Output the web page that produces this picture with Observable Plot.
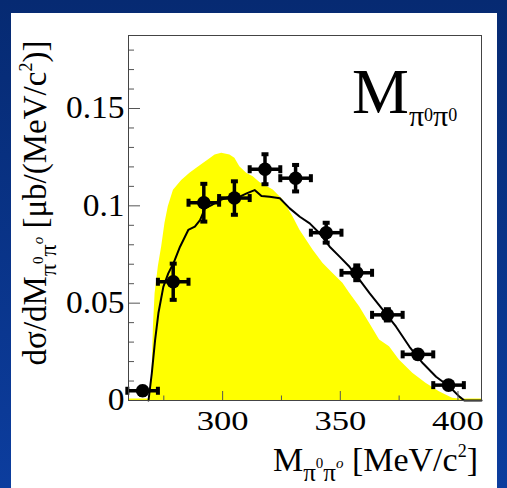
<!DOCTYPE html>
<html><head><meta charset="utf-8">
<script src="https://cdn.jsdelivr.net/npm/d3@7"></script>
<script src="https://cdn.jsdelivr.net/npm/@observablehq/plot@0.6"></script>
<style>
html,body{margin:0;padding:0;width:507px;height:488px;overflow:hidden;background:linear-gradient(#062a72,#0c3d9e);}
#panel{position:absolute;left:11px;top:13px;width:486px;height:475px;background:#fff;}
#chart{position:absolute;left:0;top:0;}
</style></head><body><div id="panel"></div><div id="chart"></div>
<script>
// Data points (M_pi0pi0 in MeV/c^2, dsigma/dM in ub/(MeV/c^2))
const massX   = [266, 279, 292, 305, 318, 331, 344, 357, 370, 383, 396];
const xsec    = [0.005, 0.061, 0.1016, 0.104, 0.1188, 0.1142, 0.0862, 0.0656, 0.0440, 0.0237, 0.0079];
const xsecErr = [0.002, 0.0093, 0.0097, 0.0086, 0.0077, 0.0068, 0.0051, 0.0038, 0.0029, 0.002, 0.0015];
const massHalfBin = 6.5;

// Yellow phase-space distribution
const psX = [260, 269.0, 269.5, 270.0, 270.6, 271.3, 272.7, 274.1, 275.5, 276.9, 279.1, 282.6, 286.1, 289.0, 291.8, 293.9, 296.8, 299.6, 303.1, 305.2, 307.3, 310.2, 313.0, 315.8, 321.5, 325.7, 329.9, 332.8, 335.6, 338.4, 342.6, 346.9, 351.1, 354.0, 358.2, 362.5, 366.7, 370.9, 375.1, 380.8, 386.4, 392.1, 397.7, 400.6, 410];
const psY = [0.0008, 0.0008, 0.006, 0.014, 0.038, 0.055, 0.069, 0.079, 0.091, 0.0995, 0.108, 0.113, 0.1167, 0.1193, 0.1218, 0.1235, 0.1261, 0.127, 0.1261, 0.1244, 0.1201, 0.1167, 0.1149, 0.112, 0.1081, 0.103, 0.0944, 0.0876, 0.0824, 0.0773, 0.0705, 0.0653, 0.0602, 0.0551, 0.0482, 0.0396, 0.0311, 0.0276, 0.0208, 0.014, 0.0088, 0.0045, 0.0011, 0.0008, 0.0008];

// Black model curve
const mcX = [268.5, 269.9, 271.3, 272.7, 274.8, 276.9, 279.1, 281.9, 285.4, 288.2, 290.4, 292.5, 295.3, 298.9, 302.4, 307.3, 310.2, 313.6, 316.5, 320.0, 324.3, 328.5, 332.8, 337.0, 341.2, 345.5, 349.7, 353.9, 358.2, 362.5, 368.1, 373.7, 379.4, 385.1, 390.7, 396.4, 400.6, 402.7, 410];
const mcY = [0, 0.014, 0.031, 0.0448, 0.0584, 0.0653, 0.0705, 0.079, 0.0876, 0.0893, 0.0927, 0.0987, 0.1004, 0.103, 0.1044, 0.1047, 0.1064, 0.1081, 0.105, 0.1047, 0.1039, 0.0987, 0.0944, 0.091, 0.0859, 0.079, 0.0739, 0.0687, 0.062, 0.055, 0.0465, 0.0379, 0.0276, 0.0191, 0.0122, 0.0071, 0.002, 0, 0];

const xMajorTicks = [300, 350, 400];
const xMinorTicks = [275, 325, 375];
const yMajorTicks = [0, 0.05, 0.1, 0.15];
const yMinorTicks = [0.01, 0.02, 0.03, 0.04, 0.06, 0.07, 0.08, 0.09, 0.11, 0.12, 0.13, 0.14, 0.16, 0.17, 0.18];

const W = 507, H = 488, mL = 128, mR = 26, mT = 35, mB = 88;
const frameW = W - mL - mR, frameH = H - mT - mB;
const serif = "'Liberation Serif', 'Times New Roman', serif";

const points = massX.map((x, i) => ({x, y: xsec[i], e: xsecErr[i]}));
const ps = psX.map((x, i) => ({x, y: psY[i]}));
const mc = mcX.map((x, i) => ({x, y: mcY[i]}));

const vbar = {draw(ctx, size) { const r = Math.sqrt(size / Math.PI); ctx.moveTo(0, -r); ctx.lineTo(0, r); }};
const hbar = {draw(ctx, size) { const r = Math.sqrt(size / Math.PI); ctx.moveTo(-r, 0); ctx.lineTo(r, 0); }};

const chart = Plot.plot({
  width: W, height: H, marginLeft: mL, marginRight: mR, marginTop: mT, marginBottom: mB,
  style: {background: "transparent", fontFamily: serif, color: "#000"},
  x: {domain: [260, 410]},
  y: {domain: [0, 0.1875]},
  marks: [
    Plot.areaY(ps, {x: "x", y: "y", fill: "#ffff00"}),
    Plot.line(mc, {x: "x", y: "y", stroke: "#000", strokeWidth: 2}),
    Plot.ruleY(points, {x1: d => d.x - massHalfBin, x2: d => d.x + massHalfBin, y: "y", stroke: "#000", strokeWidth: 3.5}),
    Plot.ruleX(points, {x: "x", y1: d => d.y - d.e, y2: d => d.y + d.e, stroke: "#000", strokeWidth: 3.5}),
    Plot.dot(points, {x: d => d.x - massHalfBin, y: "y", symbol: vbar, r: 4, stroke: "#000", strokeWidth: 4}),
    Plot.dot(points, {x: d => d.x + massHalfBin, y: "y", symbol: vbar, r: 4, stroke: "#000", strokeWidth: 4}),
    Plot.dot(points, {x: "x", y: d => d.y - d.e, symbol: hbar, r: 3.5, stroke: "#000", strokeWidth: 4}),
    Plot.dot(points, {x: "x", y: d => d.y + d.e, symbol: hbar, r: 3.5, stroke: "#000", strokeWidth: 4}),
    Plot.dot(points, {x: "x", y: "y", r: 6.8, fill: "#000"}),
    Plot.tickX(xMajorTicks, {x: d => d, insetTop: frameH - 9, stroke: "#555"}),
    Plot.tickX(xMinorTicks, {x: d => d, insetTop: frameH - 4.5, stroke: "#555"}),
    Plot.tickY(yMajorTicks, {y: d => d, insetRight: frameW - 12, stroke: "#555"}),
    Plot.tickY(yMinorTicks, {y: d => d, insetRight: frameW - 6, stroke: "#555"}),
    Plot.frame({stroke: "#444"}),
    Plot.axisX({ticks: xMajorTicks, tickSize: 0, tickPadding: 10, fontSize: 27, label: null}),
    Plot.axisY({ticks: yMajorTicks, tickSize: 0, tickPadding: 4, fontSize: 31, label: null, tickFormat: d => String(d)})
  ]
});
document.getElementById("chart").appendChild(chart);

const svg = d3.select(chart);
svg.selectAll("g[aria-label='x-axis tick label'] text").each(function() {
  this.setAttribute("textLength", this.getComputedTextLength() * 1.28);
  this.setAttribute("lengthAdjust", "spacingAndGlyphs");
});
svg.selectAll("g[aria-label='y-axis tick label'] text").each(function() {
  this.setAttribute("textLength", this.getComputedTextLength() * 1.08);
  this.setAttribute("lengthAdjust", "spacingAndGlyphs");
});

function pipi(t, subSize, supSize, down, up) {
  t.append("tspan").attr("font-size", subSize).attr("dy", down).text("π");
  t.append("tspan").attr("font-size", supSize).attr("dy", -up).text("0");
  t.append("tspan").attr("font-size", subSize).attr("dy", up).text("π");
}

// X axis title
const xt = svg.append("text").attr("x", 478).attr("y", 471).attr("text-anchor", "end")
  .attr("font-size", 34).attr("font-family", serif).attr("fill", "#000");
xt.append("tspan").text("M");
pipi(xt, 25, 15, 10, 13);
xt.append("tspan").attr("font-size", 15).attr("dy", -13).attr("font-style", "italic").text("o");
xt.append("tspan").attr("dy", 3).text(" [MeV/c");
xt.append("tspan").attr("font-size", 18).attr("dy", -14).text("2");
xt.append("tspan").attr("dy", 14).text("]");

// Y axis title
const yt = svg.append("text").attr("transform", "translate(46,203) rotate(-90)").attr("text-anchor", "middle")
  .attr("font-size", 33).attr("font-family", serif).attr("fill", "#000");
yt.append("tspan").text("dσ/dM");
pipi(yt, 24, 15, 10, 13);
yt.append("tspan").attr("font-size", 15).attr("dy", -13).attr("font-style", "italic").text("o");
yt.append("tspan").attr("dy", 3).text(" [μb/(MeV/c");
yt.append("tspan").attr("font-size", 18).attr("dy", -14).text("2");
yt.append("tspan").attr("dy", 14).text(")]");

// In-plot label
const lab = svg.append("text").attr("x", 352).attr("y", 113).attr("text-anchor", "start").attr("font-size", 64)
  .attr("font-family", serif).attr("fill", "#000");
lab.append("tspan").text("M");
pipi(lab, 30, 18, 13, 5);
lab.append("tspan").attr("font-size", 18).attr("dy", -5).text("0");
</script></body></html>
